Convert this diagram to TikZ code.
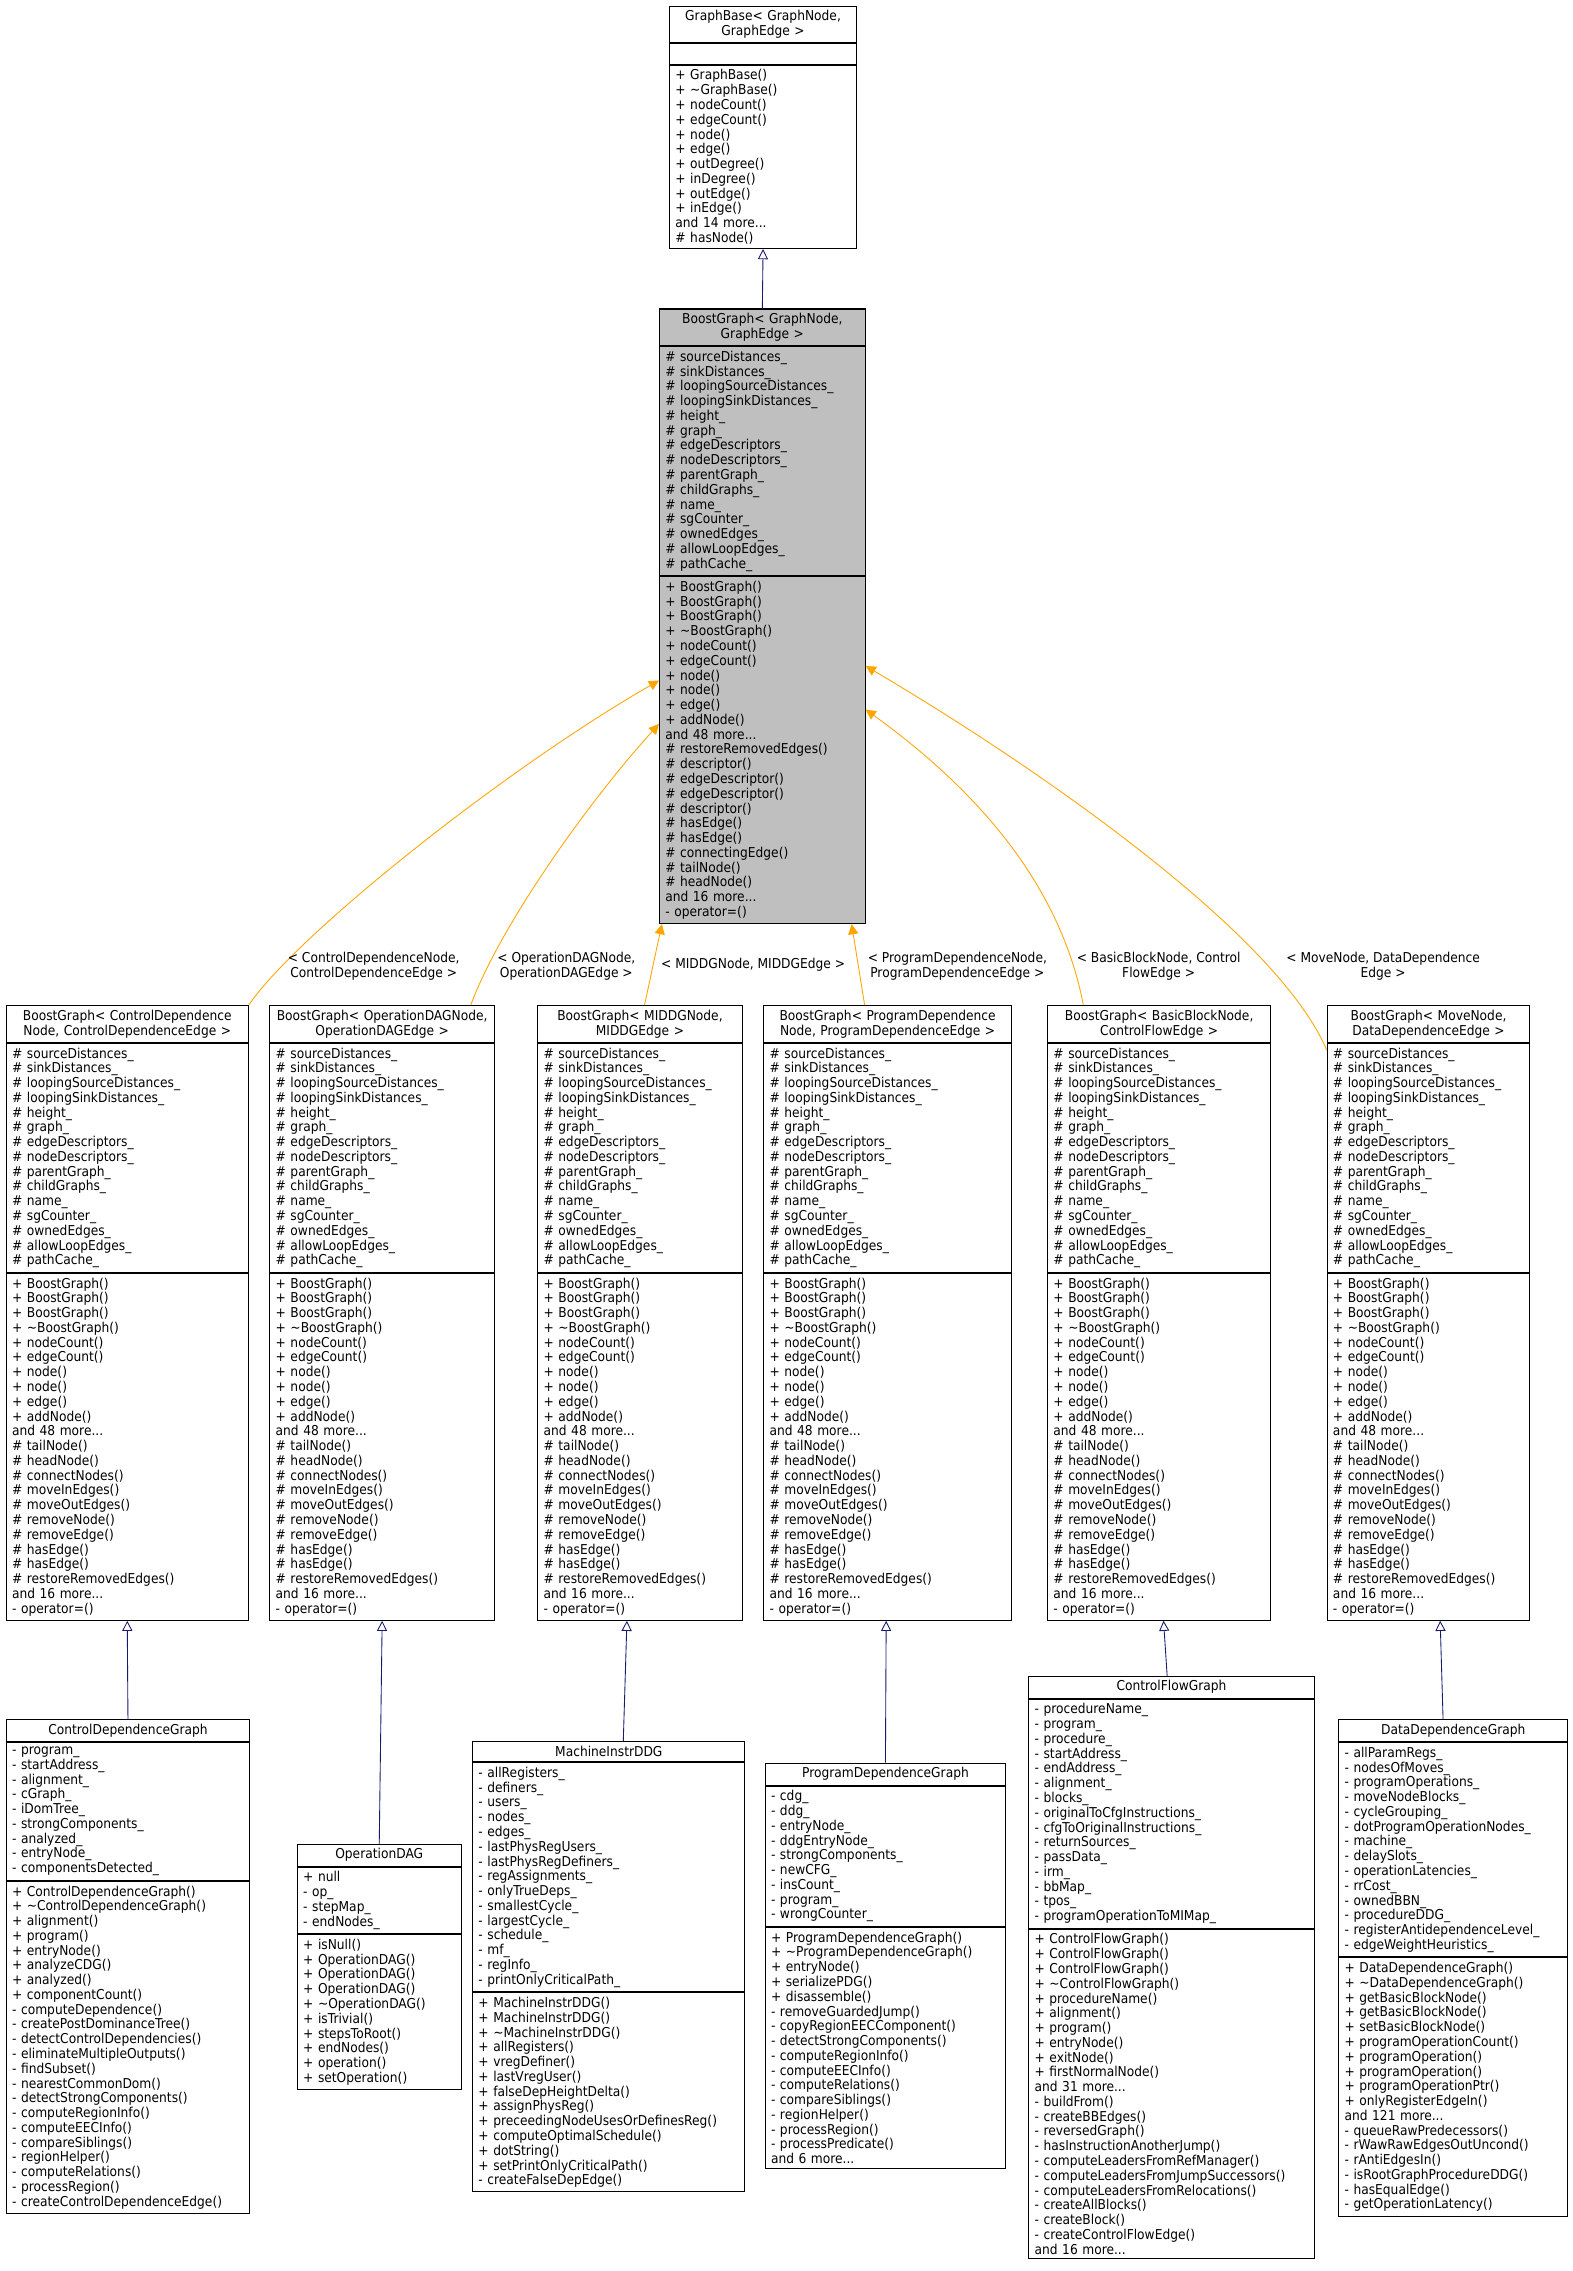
\documentclass[tikz,border=0pt]{standalone}
\usepackage{fontspec}
\setmainfont{DejaVu Sans}[FakeStretch=0.9]
\usetikzlibrary{arrows.meta,positioning,calc}
\definecolor{edgeblue}{HTML}{191970}
\definecolor{edgeorange}{HTML}{FFA500}
\definecolor{focusgray}{HTML}{BFBFBF}
\newcommand{\umlfont}{\fontsize{9.4}{10.2}\selectfont\hyphenpenalty=10000\exhyphenpenalty=10000}

\tikzset{
  part/.style={draw=black, anchor=north west, align=left, inner xsep=4pt,
    inner ysep=3pt, font=\umlfont, line width=0.7pt, minimum height=14pt},
  inherit/.style={-{Triangle[open,fill=white,length=7pt,width=7pt]}, edgeblue, line width=0.6pt},
  use/.style={-{Triangle[length=7pt,width=7pt]}, edgeorange, line width=0.6pt},
  edgelabel/.style={font=\umlfont, align=center}
}

% name, x, y, width, fill, title, attributes, operations
\newcommand{\umlclass}[8]{%
  \node[part, fill=#5, align=center, text width=#4pt-8pt] (#1-t) at (#2,#3) {#6};
  \node[part, fill=#5, text width=#4pt-8pt] (#1-a) at (#1-t.south west) {#7};
  \node[part, fill=#5, text width=#4pt-8pt] (#1-m) at (#1-a.south west) {#8};
}

\newcommand{\bgattrs}{\# sourceDistances\_\\\# sinkDistances\_\\\# loopingSourceDistances\_\\
  \# loopingSinkDistances\_\\\# height\_\\\# graph\_\\\# edgeDescriptors\_\\\# nodeDescriptors\_\\
  \# parentGraph\_\\\# childGraphs\_\\\# name\_\\\# sgCounter\_\\\# ownedEdges\_\\
  \# allowLoopEdges\_\\\# pathCache\_}
\newcommand{\bgfirstops}{+ BoostGraph()\\+ BoostGraph()\\+ BoostGraph()\\+ \textasciitilde BoostGraph()\\
  + nodeCount()\\+ edgeCount()\\+ node()\\+ node()\\+ edge()\\+ addNode()\\and 48 more...}
\newcommand{\rowops}{\bgfirstops\\\# tailNode()\\\# headNode()\\\# connectNodes()\\\# moveInEdges()\\
  \# moveOutEdges()\\\# removeNode()\\\# removeEdge()\\\# hasEdge()\\\# hasEdge()\\
  \# restoreRemovedEdges()\\and 16 more...\\- operator=()}

\begin{document}
\begin{tikzpicture}[x=1pt, y=-1pt]
  \useasboundingbox (0,0) rectangle (1086,1568);

  % base classes
  \umlclass{gb}{462}{4}{129}{white}{GraphBase< GraphNode,\\GraphEdge >}{}
    {+ GraphBase()\\+ \textasciitilde GraphBase()\\+ nodeCount()\\+ edgeCount()\\+ node()\\+ edge()\\
     + outDegree()\\+ inDegree()\\+ outEdge()\\+ inEdge()\\and 14 more...\\\# hasNode()}
  \umlclass{bg}{455}{213}{142}{focusgray}{BoostGraph< GraphNode,\\GraphEdge >}{\bgattrs}
    {\bgfirstops\\\# restoreRemovedEdges()\\\# descriptor()\\\# edgeDescriptor()\\\# edgeDescriptor()\\
     \# descriptor()\\\# hasEdge()\\\# hasEdge()\\\# connectingEdge()\\\# tailNode()\\\# headNode()\\
     and 16 more...\\- operator=()}

  % template instances
  \umlclass{cde}{4}{694}{167}{white}{BoostGraph< ControlDependence\\Node, ControlDependenceEdge >}{\bgattrs}{\rowops}
  \umlclass{odag}{186}{694}{155}{white}{BoostGraph< OperationDAGNode,\\OperationDAGEdge >}{\bgattrs}{\rowops}
  \umlclass{middg}{371}{694}{141}{white}{BoostGraph< MIDDGNode,\\MIDDGEdge >}{\bgattrs}{\rowops}
  \umlclass{pdge}{527}{694}{171}{white}{BoostGraph< ProgramDependence\\Node, ProgramDependenceEdge >}{\bgattrs}{\rowops}
  \umlclass{bbe}{723}{694}{154}{white}{BoostGraph< BasicBlockNode,\\ControlFlowEdge >}{\bgattrs}{\rowops}
  \umlclass{move}{916}{694}{140}{white}{BoostGraph< MoveNode,\\DataDependenceEdge >}{\bgattrs}{\rowops}

  % concrete graphs
  \umlclass{cdg}{4}{1187}{168}{white}{ControlDependenceGraph}
    {- program\_\\- startAddress\_\\- alignment\_\\- cGraph\_\\- iDomTree\_\\- strongComponents\_\\
     - analyzed\_\\- entryNode\_\\- componentsDetected\_}
    {+ ControlDependenceGraph()\\+ \textasciitilde ControlDependenceGraph()\\+ alignment()\\+ program()\\
     + entryNode()\\+ analyzeCDG()\\+ analyzed()\\+ componentCount()\\- computeDependence()\\
     - createPostDominanceTree()\\- detectControlDependencies()\\- eliminateMultipleOutputs()\\
     - findSubset()\\- nearestCommonDom()\\- detectStrongComponents()\\- computeRegionInfo()\\
     - computeEECInfo()\\- compareSiblings()\\- regionHelper()\\- computeRelations()\\
     - processRegion()\\- createControlDependenceEdge()}
  \umlclass{opdag}{205}{1273}{113}{white}{OperationDAG}
    {+ null\\- op\_\\- stepMap\_\\- endNodes\_}
    {+ isNull()\\+ OperationDAG()\\+ OperationDAG()\\+ OperationDAG()\\+ \textasciitilde OperationDAG()\\
     + isTrivial()\\+ stepsToRoot()\\+ endNodes()\\+ operation()\\+ setOperation()}
  \umlclass{mddg}{326}{1202}{188}{white}{MachineInstrDDG}
    {- allRegisters\_\\- definers\_\\- users\_\\- nodes\_\\- edges\_\\- lastPhysRegUsers\_\\
     - lastPhysRegDefiners\_\\- regAssignments\_\\- onlyTrueDeps\_\\- smallestCycle\_\\- largestCycle\_\\
     - schedule\_\\- mf\_\\- regInfo\_\\- printOnlyCriticalPath\_}
    {+ MachineInstrDDG()\\+ MachineInstrDDG()\\+ \textasciitilde MachineInstrDDG()\\+ allRegisters()\\
     + vregDefiner()\\+ lastVregUser()\\+ falseDepHeightDelta()\\+ assignPhysReg()\\
     + preceedingNodeUsesOrDefinesReg()\\+ computeOptimalSchedule()\\+ dotString()\\
     + setPrintOnlyCriticalPath()\\- createFalseDepEdge()}
  \umlclass{pdg}{528}{1217}{166}{white}{ProgramDependenceGraph}
    {- cdg\_\\- ddg\_\\- entryNode\_\\- ddgEntryNode\_\\- strongComponents\_\\- newCFG\_\\- insCount\_\\
     - program\_\\- wrongCounter\_}
    {+ ProgramDependenceGraph()\\+ \textasciitilde ProgramDependenceGraph()\\+ entryNode()\\
     + serializePDG()\\+ disassemble()\\- removeGuardedJump()\\- copyRegionEECComponent()\\
     - detectStrongComponents()\\- computeRegionInfo()\\- computeEECInfo()\\- computeRelations()\\
     - compareSiblings()\\- regionHelper()\\- processRegion()\\- processPredicate()\\and 6 more...}
  \umlclass{cfg}{710}{1157}{197}{white}{ControlFlowGraph}
    {- procedureName\_\\- program\_\\- procedure\_\\- startAddress\_\\- endAddress\_\\- alignment\_\\
     - blocks\_\\- originalToCfgInstructions\_\\- cfgToOriginalInstructions\_\\- returnSources\_\\
     - passData\_\\- irm\_\\- bbMap\_\\- tpos\_\\- programOperationToMIMap\_}
    {+ ControlFlowGraph()\\+ ControlFlowGraph()\\+ ControlFlowGraph()\\+ \textasciitilde ControlFlowGraph()\\
     + procedureName()\\+ alignment()\\+ program()\\+ entryNode()\\+ exitNode()\\+ firstNormalNode()\\
     and 31 more...\\- buildFrom()\\- createBBEdges()\\- reversedGraph()\\- hasInstructionAnotherJump()\\
     - computeLeadersFromRefManager()\\- computeLeadersFromJumpSuccessors()\\
     - computeLeadersFromRelocations()\\- createAllBlocks()\\- createBlock()\\
     - createControlFlowEdge()\\and 16 more...}
  \umlclass{ddg}{924}{1187}{158}{white}{DataDependenceGraph}
    {- allParamRegs\_\\- nodesOfMoves\_\\- programOperations\_\\- moveNodeBlocks\_\\- cycleGrouping\_\\
     - dotProgramOperationNodes\_\\- machine\_\\- delaySlots\_\\- operationLatencies\_\\- rrCost\_\\
     - ownedBBN\_\\- procedureDDG\_\\- registerAntidependenceLevel\_\\- edgeWeightHeuristics\_}
    {+ DataDependenceGraph()\\+ \textasciitilde DataDependenceGraph()\\+ getBasicBlockNode()\\
     + getBasicBlockNode()\\+ setBasicBlockNode()\\+ programOperationCount()\\+ programOperation()\\
     + programOperation()\\+ programOperationPtr()\\+ onlyRegisterEdgeIn()\\and 121 more...\\
     - queueRawPredecessors()\\- rWawRawEdgesOutUncond()\\- rAntiEdgesIn()\\
     - isRootGraphProcedureDDG()\\- hasEqualEdge()\\- getOperationLatency()}

  % inheritance
  \draw[inherit] (bg-t.north) -- (gb-m.south);
  \draw[inherit] (cdg-t.north) -- (cde-m.south);
  \draw[inherit] (opdag-t.north) -- (odag-m.south);
  \draw[inherit] ($(mddg-t.north)+(10,0)$) -- ($(middg-m.south)+(-9,0)$);
  \draw[inherit] (pdg-t.north) -- ($(pdge-m.south)+(-1,0)$);
  \draw[inherit] ($(cfg-t.north)+(-3,0)$) -- ($(bbe-m.south)+(3,0)$);
  \draw[inherit] ($(ddg-t.north)+(-7,0)$) -- ($(move-m.south)+(8,0)$);

  % template bindings
  \draw[use] (cde-t.north east) .. controls (205,645) and (350,530) .. ($(bg-m.north west)+(0,72)$);
  \draw[use] ($(odag-t.north west)+(139,0)$) .. controls (345,640) and (405,555) .. ($(bg-m.north west)+(0,102)$);
  \draw[use] ($(middg-t.north west)+(74,0)$) -- ($(bg-m.south west)+(2,0)$);
  \draw[use] ($(pdge-t.north west)+(70,0)$) -- ($(bg-m.south west)+(133,0)$);
  \draw[use] ($(bbe-t.north west)+(25,0)$) .. controls (730,600) and (660,535) .. ($(bg-m.north east)+(0,92)$);
  \draw[use] ($(move-a.north west)+(0,5)$) .. controls (880,640) and (700,520) .. ($(bg-m.north east)+(0,62)$);

  \node[edgelabel] (lbl-cde) at (258,667) {< ControlDependenceNode,\\ControlDependenceEdge >};
  \node[edgelabel] (lbl-odag) at (391,667) {< OperationDAGNode,\\OperationDAGEdge >};
  \node[edgelabel] (lbl-middg) at (520,666) {< MIDDGNode, MIDDGEdge >};
  \node[edgelabel] (lbl-pdge) at (661,667) {< ProgramDependenceNode,\\ProgramDependenceEdge >};
  \node[edgelabel] (lbl-bbe) at (800,667) {< BasicBlockNode, Control\\FlowEdge >};
  \node[edgelabel] (lbl-move) at (955,667) {< MoveNode, DataDependence\\Edge >};
\end{tikzpicture}
\end{document}
